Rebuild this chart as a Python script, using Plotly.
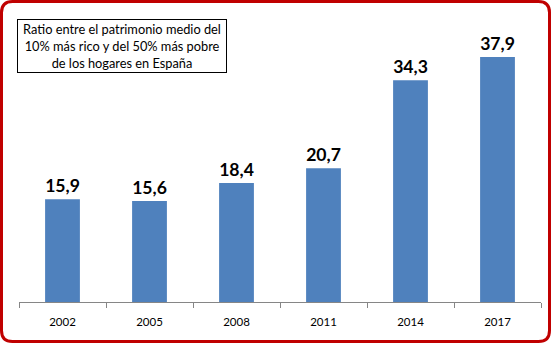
import plotly.graph_objects as go

years = ["2002", "2005", "2008", "2011", "2014", "2017"]
ratios = [15.9, 15.6, 18.4, 20.7, 34.3, 37.9]
labels = ["15,9", "15,6", "18,4", "20,7", "34,3", "37,9"]
title_text = "Ratio entre el patrimonio medio del<br>10% más rico y del 50% más pobre<br>de los hogares en España"

W, H = 554, 351
L, R, T, B = 19, 13, 11, 49
PW, PH = W - L - R, H - T - B

def px(x):
    return (x - L) / PW

def py(y):
    return (H - B - y) / PH

fig = go.Figure(go.Bar(
    x=years, y=ratios, text=labels, textposition="outside",
    textfont=dict(family="Lato", size=18, color="black", weight="bold"),
    marker=dict(color="#4F81BD", line=dict(width=0)),
    cliponaxis=False, width=0.4,
))

# rounded red border
x0, y0, x1, y1, r = 1.5, 1.5, 549.5, 341.5, 11
path = (f"M {px(x0+r)},{py(y0)} L {px(x1-r)},{py(y0)} Q {px(x1)},{py(y0)} {px(x1)},{py(y0+r)} "
        f"L {px(x1)},{py(y1-r)} Q {px(x1)},{py(y1)} {px(x1-r)},{py(y1)} "
        f"L {px(x0+r)},{py(y1)} Q {px(x0)},{py(y1)} {px(x0)},{py(y1-r)} "
        f"L {px(x0)},{py(y0+r)} Q {px(x0)},{py(y0)} {px(x0+r)},{py(y0)} Z")
fig.add_shape(type="path", path=path, xref="paper", yref="paper",
              line=dict(color="#C00000", width=3))

fig.add_annotation(
    x=px(122), y=py(46), xref="paper", yref="paper", xanchor="center", yanchor="middle",
    text=title_text, showarrow=False, align="center",
    font=dict(family="Lato", size=12.8, color="black"),
    width=206, height=50,
    bordercolor="black", borderwidth=1, borderpad=1, bgcolor="white",
)

fig.update_layout(
    width=W, height=H, margin=dict(l=L, r=R, t=T, b=B),
    paper_bgcolor="white", plot_bgcolor="white", showlegend=False,
    xaxis=dict(type="category", showline=True, linecolor="#868686", linewidth=1,
               ticks="outside", tickson="boundaries", ticklen=5, tickcolor="#868686",
               ticklabelstandoff=9,
               tickfont=dict(family="Lato", size=11.5, color="black"), showgrid=False),
    yaxis=dict(range=[0, 45], visible=False, showgrid=False),
)

fig.write_html("out.html")
